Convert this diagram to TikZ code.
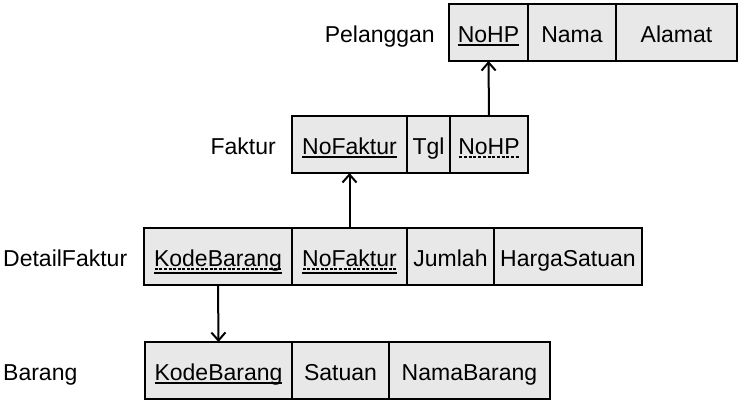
\documentclass[tikz,border=0pt]{standalone}
\usepackage{fontspec}
\setmainfont{Liberation Sans}
\usepackage{tikz}
\usepackage{xcolor}
\usetikzlibrary{positioning,arrows.meta}
\tikzset{>={Straight Barb[length=8pt,width=14pt]}}

\definecolor{abu}{RGB}{232,232,232}
% garis bawah penuh (kunci primer) dan putus-putus (kunci asing)
\newcommand{\kunci}[2][3.5pt]{\setbox0\hbox{#2}\rlap{\rule[-#1]{\wd0}{1.6pt}}\box0}
\newcommand{\asing}[1]{\setbox0\hbox{#1}\rlap{\hbox to\wd0{\xleaders\hbox to 4.5pt{\hss\rule[-3.4pt]{3pt}{1.5pt}\hss}\hfill}}\box0}

\begin{document}
\begin{tikzpicture}[x=1pt, y=-1pt, font=\fontsize{23}{27}\selectfont,
    sel/.style={draw, fill=abu, line width=2pt, minimum height=57pt, inner sep=0pt, outer sep=0pt,
      text height=21pt, text depth=1pt},
    judul/.style={inner sep=0pt, text height=21pt, text depth=1pt}]
      \useasboundingbox (0,0) rectangle (741,404);
      % Pelanggan
      \node[sel, anchor=north west, minimum width=79pt] (plgNoHP) at (449,4) {\kunci{NoHP}};
      \node[sel, minimum width=88pt, right=0pt of plgNoHP] (plgNama) {Nama};
      \node[sel, minimum width=121pt, right=0pt of plgNama] (plgAlamat) {Alamat};
      \node[judul, left=14pt of plgNoHP] (lblPelanggan) {Pelanggan};
      % Faktur
      \node[sel, anchor=north west, minimum width=115pt] (fktNoFaktur) at (292,116) {\kunci{NoFaktur}};
      \node[sel, minimum width=43pt, right=0pt of fktNoFaktur] (fktTgl) {Tgl};
      \node[sel, minimum width=78pt, right=0pt of fktTgl] (fktNoHP) {\asing{NoHP}};
      \node[judul, left=16pt of fktNoFaktur] (lblFaktur) {Faktur};
      % DetailFaktur
      \node[sel, anchor=north west, minimum width=148pt] (dtlKode) at (144,228) {\kunci[7pt]{\asing{KodeBarang}}};
      \node[sel, minimum width=115pt, right=0pt of dtlKode] (dtlNoFaktur) {\kunci[7pt]{\asing{NoFaktur}}};
      \node[sel, minimum width=87pt, right=0pt of dtlNoFaktur] (dtlJumlah) {Jumlah};
      \node[sel, minimum width=148pt, right=0pt of dtlJumlah] (dtlHarga) {HargaSatuan};
      \node[judul, anchor=west] (lblDetail) at (3,256.5) {DetailFaktur};
      % Barang
      \node[sel, anchor=north west, minimum width=147pt] (brgKode) at (145,342) {\kunci{KodeBarang}};
      \node[sel, minimum width=97pt, right=0pt of brgKode] (brgSatuan) {Satuan};
      \node[sel, minimum width=161pt, right=0pt of brgSatuan] (brgNama) {NamaBarang};
      \node[judul, anchor=west] (lblBarang) at (3,370.5) {Barang};
      % relasi
      \draw[line width=2pt, ->] (fktNoHP.north) -- (plgNoHP.south);
      \draw[line width=2pt, ->] (dtlNoFaktur.north) -- (fktNoFaktur.south);
      \draw[line width=2pt, ->] (dtlKode.south) -- (brgKode.north);
\end{tikzpicture}
\end{document}
